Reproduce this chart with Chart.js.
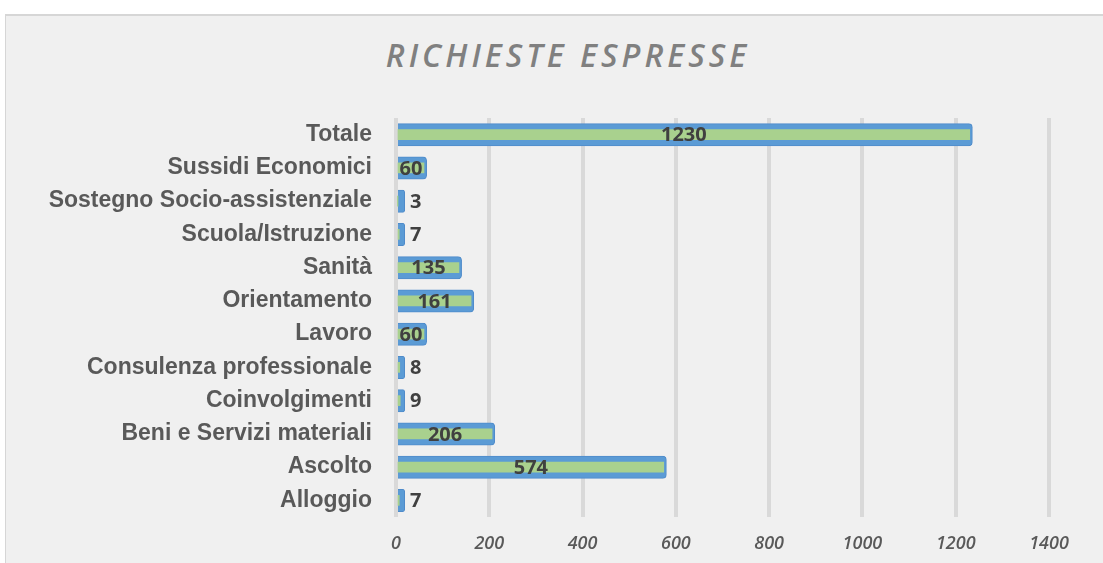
<!DOCTYPE html>
<html>
<head>
<meta charset="utf-8">
<script src="https://cdn.jsdelivr.net/npm/chart.js@4/dist/chart.umd.min.js"></script>
<style>
    body { margin: 0; background: #fff; }
    #box {
        position: absolute; left: 5px; top: 14px; width: 1098px; height: 549px;
        background: #f0f0f0; box-shadow: inset 1px 2px 0 #d6d6d6;
    }
    #title {
        position: absolute; left: 14px; top: 21px; width: 1098px; text-align: center;
        font-family: "Open Sans", sans-serif; font-style: italic; font-weight: 600;
        font-size: 32px; letter-spacing: 4px; color: #808080; line-height: 40px;
    }
    #wrap { position: absolute; left: 0; top: 0; width: 1098px; height: 549px; }
</style>
</head>
<body>
<div id="box">
    <div id="title">RICHIESTE ESPRESSE</div>
    <div id="wrap"><canvas id="chart"></canvas></div>
</div>
<script>
// categories, top to bottom
const categories = [
    'Totale',
    'Sussidi Economici',
    'Sostegno Socio-assistenziale',
    'Scuola/Istruzione',
    'Sanità',
    'Orientamento',
    'Lavoro',
    'Consulenza professionale',
    'Coinvolgimenti',
    'Beni e Servizi materiali',
    'Ascolto',
    'Alloggio'
];
const values = [1230, 60, 3, 7, 135, 161, 60, 8, 9, 206, 574, 7];
const xTicks = [0, 200, 400, 600, 800, 1000, 1200, 1400];

// numbers on / next to the bars
const valueLabels = {
    id: 'valueLabels',
    afterDatasetsDraw(chart) {
        const ctx = chart.ctx;
        const meta = chart.getDatasetMeta(1);
        ctx.save();
        ctx.font = 'bold 20px "Open Sans"';
        ctx.fillStyle = '#404040';
        ctx.textBaseline = 'middle';
        meta.data.forEach(function(bar, i) {
            const v = values[i];
            if (v < 30) {
                ctx.textAlign = 'left';
                ctx.fillText(v, bar.x + 8, bar.y + 1);
            } else {
                ctx.textAlign = 'center';
                ctx.fillText(v, (bar.x + bar.base) / 2, bar.y + 1);
            }
        });
        ctx.restore();
    }
};

new Chart(document.getElementById('chart'), {
    type: 'bar',
    data: {
        labels: categories,
        datasets: [
            {
                label: 'inner',
                data: values,
                backgroundColor: '#a9d18e',
                borderWidth: 0,
                barThickness: 10,
                grouped: false,
                order: 0
            },
            {
                label: 'Richieste',
                data: values,
                backgroundColor: '#5b9bd5',
                borderColor: '#4f8bca',
                borderWidth: 1,
                borderRadius: 4,
                barThickness: 17,
                inflateAmount: 3,
                minBarLength: 6,
                grouped: false,
                order: 1
            }
        ]
    },
    options: {
        indexAxis: 'y',
        responsive: true,
        maintainAspectRatio: false,
        animation: false,
        layout: { padding: { top: 104, right: 54, bottom: 0, left: 0 } },
        plugins: {
            legend: { display: false },
            tooltip: { enabled: false },
            title: { display: false }
        },
        scales: {
            x: {
                min: 0,
                max: 1400,
                afterFit: function(s) { s.height = 46; },
                afterBuildTicks: function(s) { s.ticks = xTicks.map(v => ({ value: v })); },
                grid: { color: '#d9d9d9', lineWidth: 4, drawTicks: false },
                border: { display: false },
                ticks: {
                    padding: 16,
                    color: '#595959',
                    font: { family: 'Open Sans', size: 18, style: 'italic', weight: '600' },
                    callback: function(value) { return String(value); }
                }
            },
            y: {
                afterFit: function(s) { s.width = 391; },
                grid: { display: false, drawTicks: false },
                border: { display: false },
                ticks: {
                    padding: 24,
                    color: '#595959',
                    font: { family: 'Liberation Sans', size: 23, weight: 'bold' }
                }
            }
        }
    },
    plugins: [valueLabels]
});
</script>
</body>
</html>
